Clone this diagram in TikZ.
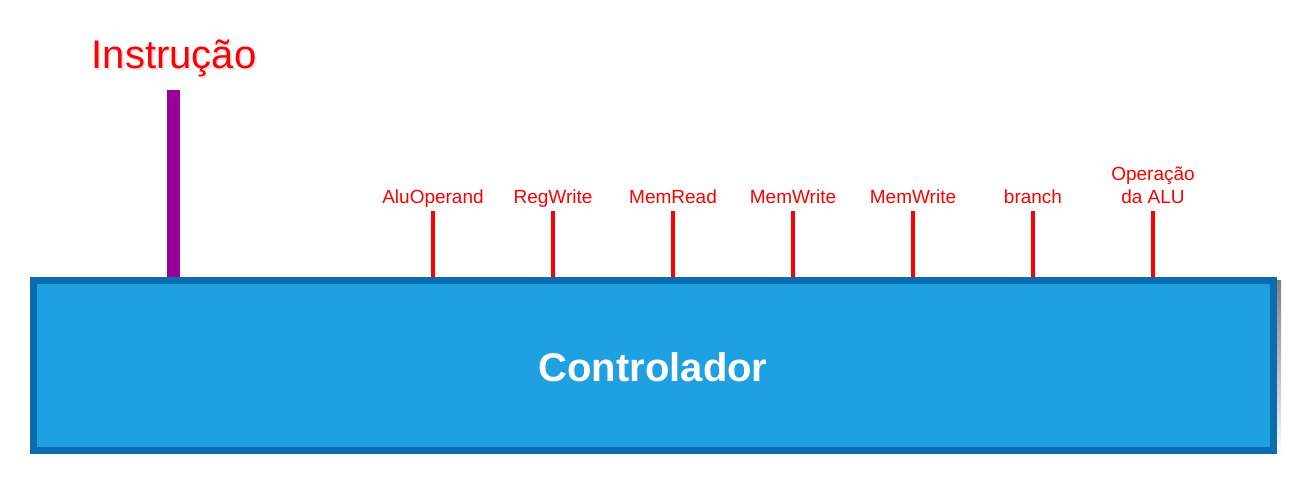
\documentclass[tikz,border=0pt]{standalone}
\usepackage{fontspec}
\setmainfont{Liberation Sans}
\definecolor{boxfill}{HTML}{1FA0E1}
\definecolor{boxline}{HTML}{0A6DAF}
\definecolor{instr}{HTML}{990099}
\definecolor{sigred}{HTML}{FF0000}
\definecolor{shade}{HTML}{E2E2EA}
\begin{document}
\begin{tikzpicture}[x=1pt,y=-1pt,
  sig/.style={draw=sigred,line width=3.5pt},
  siglabel/.style={text=sigred,font=\fontsize{19}{23}\selectfont,align=center,inner sep=0pt,anchor=base}]
\useasboundingbox (0,0) rectangle (1314,491);
% shadow
\fill[shade] (33,280) rectangle (1281,458);
\node[draw=boxline,fill=boxfill,line width=7pt,minimum width=1240pt,minimum height=170pt,inner sep=0pt,anchor=north west] (ctrl) at (30,277) {};
\node[text=white,font=\bfseries\fontsize{40}{44}\selectfont] (ctrltext) at (653,367) {Controlador};
% instruction
\node[text=shade,font=\fontsize{40}{44}\selectfont,inner sep=0pt] at (176,60) {Instrução};
\node[text=sigred,font=\fontsize{40}{44}\selectfont,inner sep=0pt] (instrlabel) at (174,58) {Instrução};
\coordinate (instrtop) at (173,90);
\draw[draw=instr,line width=13pt] (instrtop) -- (instrtop |- ctrl.north);
% signals
\foreach \x/\name/\txt in {433/s1/AluOperand,553/s2/RegWrite,673/s3/MemRead,793/s4/MemWrite,913/s5/MemWrite,1033/s6/branch}{
  \node[siglabel] (\name) at (\x,203) {\txt};
  \coordinate (\name top) at (\x,211);
  \draw[sig] (\name top) -- (\name top |- ctrl.north);
}
\node[siglabel] (s7) at (1153,203) {Operação\\da ALU};
\coordinate (s7top) at (1153,211);
\draw[sig] (s7top) -- (s7top |- ctrl.north);
\end{tikzpicture}
\end{document}
